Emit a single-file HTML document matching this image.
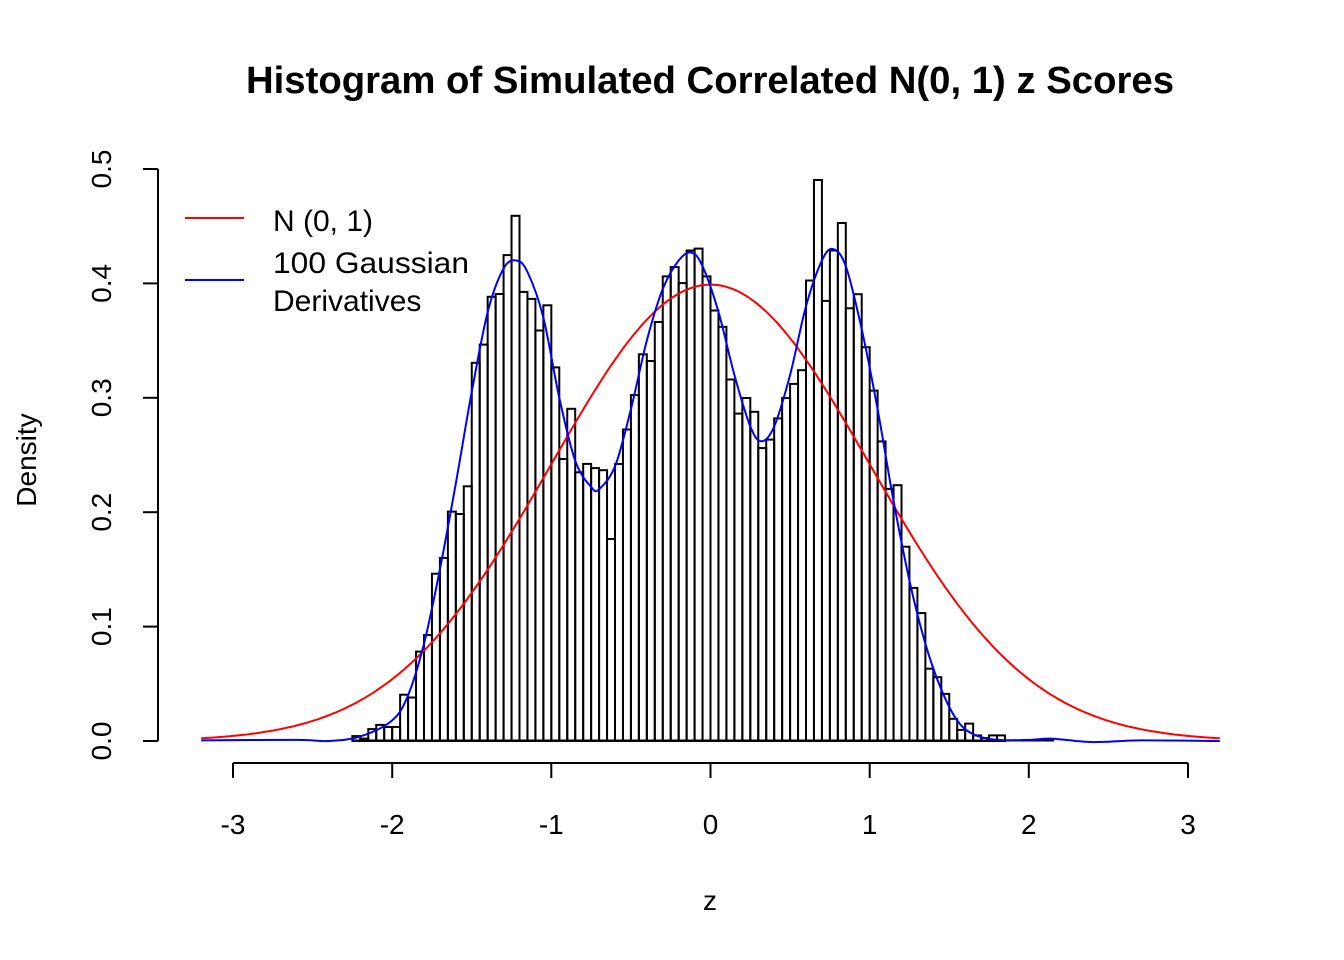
<!DOCTYPE html>
<html><head><meta charset="utf-8"><style>
html,body{margin:0;padding:0;background:#fff;}
svg{display:block;}
text{font-family:"Liberation Sans",Arial,sans-serif;fill:#000;}
</style></head><body>
<svg id="s" width="1344" height="960" viewBox="0 0 1344 960" xmlns="http://www.w3.org/2000/svg">
<text x="710" y="93" font-size="38" font-weight="bold" text-anchor="middle" textLength="928" lengthAdjust="spacingAndGlyphs">Histogram of Simulated Correlated N(0, 1) z Scores</text>
<g id="bars" fill="none" stroke="#000" stroke-width="2"></g>
<line x1="352" y1="740.5" x2="1054" y2="740.5" stroke="#000" stroke-width="2"/>
<path id="red" fill="none" stroke="#ff0000" stroke-width="2"/>
<path id="blue" fill="none" stroke="#0000ff" stroke-width="2"/>
<g stroke="#000" stroke-width="2">
<line x1="158" y1="169" x2="158" y2="741"/>
<line x1="143" y1="741" x2="158" y2="741"/>
<line x1="143" y1="626.6" x2="158" y2="626.6"/>
<line x1="143" y1="512.2" x2="158" y2="512.2"/>
<line x1="143" y1="397.8" x2="158" y2="397.8"/>
<line x1="143" y1="283.4" x2="158" y2="283.4"/>
<line x1="143" y1="169" x2="158" y2="169"/>
</g>
<g font-size="28" text-anchor="middle">
<text transform="translate(111,741) rotate(-90)">0.0</text>
<text transform="translate(111,626.6) rotate(-90)">0.1</text>
<text transform="translate(111,512.2) rotate(-90)">0.2</text>
<text transform="translate(111,397.8) rotate(-90)">0.3</text>
<text transform="translate(111,283.4) rotate(-90)">0.4</text>
<text transform="translate(111,169) rotate(-90)">0.5</text>
<text transform="translate(36,460) rotate(-90)">Density</text>
</g>
<g stroke="#000" stroke-width="2">
<line x1="233" y1="763" x2="1188" y2="763"/>
<line x1="233" y1="763" x2="233" y2="778"/>
<line x1="392.2" y1="763" x2="392.2" y2="778"/>
<line x1="551.3" y1="763" x2="551.3" y2="778"/>
<line x1="710.5" y1="763" x2="710.5" y2="778"/>
<line x1="869.7" y1="763" x2="869.7" y2="778"/>
<line x1="1028.8" y1="763" x2="1028.8" y2="778"/>
<line x1="1188" y1="763" x2="1188" y2="778"/>
</g>
<g font-size="28" text-anchor="middle">
<text x="233" y="834">-3</text>
<text x="392.2" y="834">-2</text>
<text x="551.3" y="834">-1</text>
<text x="710.5" y="834">0</text>
<text x="869.7" y="834">1</text>
<text x="1028.8" y="834">2</text>
<text x="1188" y="834">3</text>
<text x="710" y="910">z</text>
</g>
<line x1="185" y1="218" x2="244" y2="218" stroke="#ff0000" stroke-width="2"/>
<line x1="185" y1="280" x2="244" y2="280" stroke="#0000ff" stroke-width="2"/>
<g font-size="30">
<text x="273" y="231">N (0, 1)</text>
<text x="273" y="273" textLength="196" lengthAdjust="spacingAndGlyphs">100 Gaussian</text>
<text x="273" y="311">Derivatives</text>
</g>
</svg>
<script>
(function(){
var X=function(z){return 710.5+z*159.17;};
var Y=function(d){return 741-d*1144;};
var tops=[736.1,738.6,729.1,724.9,727.0,727.0,694.7,697.5,651.6,635.1,573.7,557.9,511.6,514.0,486.3,362.8,344.6,296.8,294.0,255.1,215.8,291.9,298.9,330.5,305.3,367.4,459.0,408.8,472.3,463.9,468.1,470.2,539.0,
464.0,429.5,395.1,354.3,361.0,322.0,276.4,267.1,283.1,250.5,248.6,276.4,310.5,326.8,379.5,413.6,398.0,411.8,448.1,439.6,418.4,398.0,383.9,370.2,280.5,
180.0,300.9,250.5,223.0,308.3,294.2,347.2,390.6,441.4,488.9,485.2,546.7,587.9,613.1,668.7,677.2,693.9,718.8,729.9,723.6,735.4,738.0,735.4,735.4];
var g=document.getElementById('bars'),h='';
for(var i=0;i<tops.length;i++){
 var z=-2.25+i*0.05,x1=X(z),x2=X(z+0.05);
 h+='<rect x="'+x1.toFixed(2)+'" y="'+tops[i].toFixed(1)+'" width="'+(x2-x1).toFixed(2)+'" height="'+(741-tops[i]).toFixed(1)+'"/>';
}
g.innerHTML=h;
var p='';
for(var z=-3.2;z<=3.2001;z+=0.02){var d=Math.exp(-z*z/2)/Math.sqrt(2*Math.PI);p+=(p?'L':'M')+X(z).toFixed(1)+','+Y(d).toFixed(1);}
document.getElementById('red').setAttribute('d',p);
var pts=[[-3.2,0.0005],[-2.6,0.001],[-2.4,0.0],[-2.2,0.004],[-2.0,0.018],[-1.9,0.04],[-1.8,0.085],[-1.7,0.15],[-1.6,0.225],[-1.5,0.305],[-1.4,0.375],[-1.3,0.413],[-1.22,0.42],[-1.15,0.41],[-1.05,0.37],[-0.95,0.30],[-0.85,0.245],[-0.75,0.222],[-0.7,0.22],[-0.6,0.24],[-0.5,0.29],[-0.4,0.35],[-0.3,0.395],[-0.2,0.42],[-0.12,0.427],[-0.05,0.415],[0.05,0.375],[0.15,0.32],[0.25,0.275],[0.32,0.262],[0.4,0.275],[0.5,0.32],[0.6,0.38],[0.7,0.42],[0.77,0.43],[0.85,0.415],[0.95,0.36],[1.05,0.29],[1.15,0.21],[1.25,0.14],[1.35,0.085],[1.45,0.045],[1.55,0.018],[1.65,0.006],[1.8,0.001],[2.0,0.001],[2.15,0.002],[2.4,-0.001],[2.7,0.0005],[3.2,0.0]];
var q='M'+X(pts[0][0]).toFixed(1)+','+Y(pts[0][1]).toFixed(1);
for(var i=0;i<pts.length-1;i++){
 var p0=pts[Math.max(i-1,0)],p1=pts[i],p2=pts[i+1],p3=pts[Math.min(i+2,pts.length-1)];
 var a=[X(p0[0]),Y(p0[1])],b=[X(p1[0]),Y(p1[1])],c=[X(p2[0]),Y(p2[1])],d=[X(p3[0]),Y(p3[1])];
 var c1=[b[0]+(c[0]-a[0])/6,b[1]+(c[1]-a[1])/6],c2=[c[0]-(d[0]-b[0])/6,c[1]-(d[1]-b[1])/6];
 q+='C'+c1[0].toFixed(1)+','+c1[1].toFixed(1)+' '+c2[0].toFixed(1)+','+c2[1].toFixed(1)+' '+c[0].toFixed(1)+','+c[1].toFixed(1);
}
document.getElementById('blue').setAttribute('d',q);
})();
</script>
</body></html>
